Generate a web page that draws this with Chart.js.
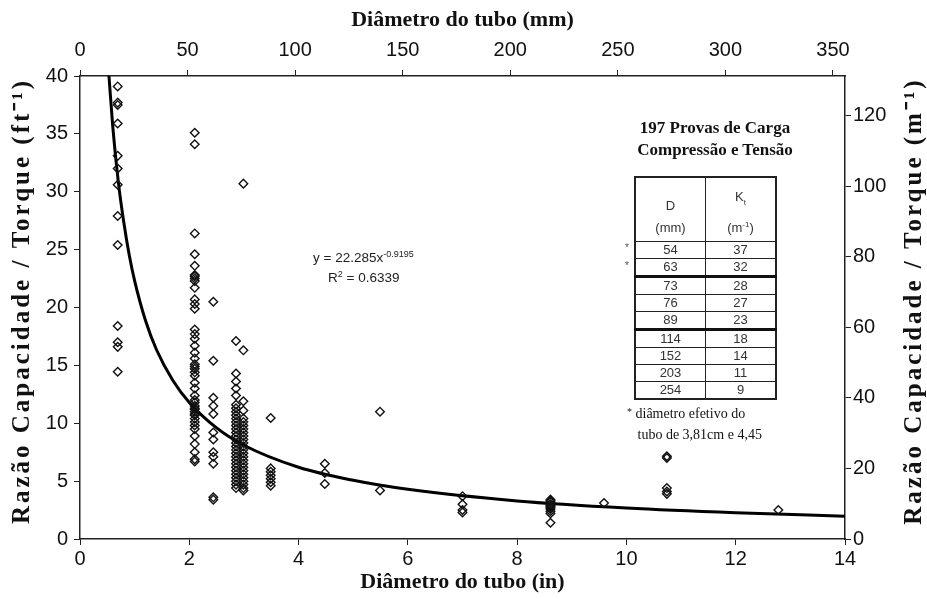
<!DOCTYPE html>
<html>
<head>
<meta charset="utf-8">
<script src="https://cdn.jsdelivr.net/npm/chart.js@4.4.1/dist/chart.umd.min.js"></script>
<style>
  body { margin: 0; background: #fff; }
  #wrap { position: relative; width: 927px; height: 599px; }
  #chart { position: absolute; left: 0; top: 0; }
  .note { position: absolute; color: #111; white-space: nowrap; }
  #eq { left: 313px; top: 246px; font: 13.5px "Liberation Sans", Arial, sans-serif; line-height: 17px; color: #222; }
  #eq sup { font-size: 9px; vertical-align: 5px; }
  #ttl { left: 600px; top: 117px; width: 230px; text-align: center; font: bold 17px "Liberation Serif", serif; line-height: 22px; }
  #kt { position: absolute; left: 634px; top: 176px; border-collapse: collapse; border: 2px solid #222;
        font: 13px "Liberation Sans", Arial, sans-serif; color: #333; }
  #kt td { border: 1.5px solid #222; width: 69px; text-align: center; padding: 0; height: 16px; line-height: 16px; }
  #kt tr.hd td { height: 61px; line-height: 22px; vertical-align: bottom; padding-bottom: 2px; }
  #kt tr.grp td { border-top: 3px solid #111; }
  #kt sub { font-size: 8px; }
  #kt sup { font-size: 8px; }
  .ast { position: absolute; left: 625px; font: 10px "Liberation Sans", sans-serif; color: #555; }
  #foot { left: 627px; top: 401px; font: 14px "Liberation Serif", serif; line-height: 21px; }
</style>
</head>
<body>
<div id="wrap">
  <canvas id="chart" width="927" height="599"></canvas>
  <div class="note" id="eq">y = 22.285x<sup>-0.9195</sup><br>&nbsp;&nbsp;&nbsp;&nbsp;R<sup>2</sup> = 0.6339</div>
  <div class="note" id="ttl">197 Provas de Carga<br>Compressão e Tensão</div>
  <table id="kt"></table>
  <div class="ast" style="top:242px">*</div>
  <div class="ast" style="top:260px">*</div>
  <div class="note" id="foot"><span style="font-size:10px;vertical-align:3px">*</span> diâmetro efetivo do<br>&nbsp;&nbsp;&nbsp;tubo de 3,81cm e 4,45</div>
</div>
<script>
'use strict';

// tube diameter (in) of each column of load tests
let colDiam = [0.69, 2.1, 2.44, 2.855, 2.99, 3.49, 4.48, 5.49, 7.0, 8.61, 9.59, 10.74, 12.78];

// capacity / torque ratio (ft^-1) read for each column
let kt069 = [39.1, 37.7, 37.5, 35.9, 33.1, 32.0, 30.6, 27.9, 25.4, 18.4, 17.0, 16.6, 14.45];
let kt210 = [35.1, 34.1, 26.4, 24.6, 23.6, 22.8, 22.7, 22.5, 22.3, 21.7, 20.7, 20.3, 19.9, 18.1, 17.7,
  17.3, 16.7, 16.1, 15.6, 15.1, 14.9, 14.7, 14.4, 14.1, 13.5, 13.0, 12.4, 12.0, 11.8, 11.5, 11.3,
  11.2, 11.0, 10.8, 10.7, 10.4, 10.1, 9.8, 9.5, 8.9, 8.2, 7.5, 6.9, 6.7];
let kt244 = [20.5, 15.4, 12.2, 11.5, 10.8, 9.2, 8.6, 7.5, 7.1, 6.5, 3.6, 3.4];
let kt285 = [17.1, 14.3, 13.6, 13.0, 12.4, 11.6, 11.3, 11.0, 10.7, 10.4, 10.1, 9.8, 9.5, 9.2, 8.9,
  8.6, 8.3, 8.0, 7.7, 7.4, 7.1, 6.8, 6.5, 6.2, 5.9, 5.6, 5.3, 5.0, 4.7, 4.4];
let kt299 = [30.7, 16.3, 11.9, 11.1, 10.4, 10.1, 9.8, 9.5, 9.2, 8.9, 8.6, 8.3, 8.0, 7.7, 7.4, 7.1,
  6.8, 6.5, 6.2, 5.9, 5.6, 5.3, 5.0, 4.7, 4.4, 4.2];
let kt349 = [10.45, 6.1, 5.8, 5.5, 5.2, 4.9, 4.6];
let kt448 = [6.5, 5.7, 4.75];
let kt549 = [11.0, 4.2];
let kt700 = [3.7, 3.0, 2.5, 2.3];
let kt861 = [3.4, 3.3, 3.2, 3.0, 2.9, 2.8, 2.7, 2.6, 2.4, 2.2, 1.4];
let kt959 = [3.1];
let kt1074 = [7.15, 7.0, 4.4, 4.1, 3.9];
let kt1278 = [2.5];

let colValues = [kt069, kt210, kt244, kt285, kt299, kt349, kt448, kt549, kt700, kt861, kt959, kt1074, kt1278];

// trend curve y = 22.285x^-0.9195
let fitX = [0.53, 0.6, 0.7, 0.8, 0.9, 1.0, 1.2, 1.4, 1.7, 2.0, 2.5, 3.0, 4.0, 5.0, 6.0, 8.0, 10.0, 12.0, 14.0];
let fitY = [40.0, 35.6, 30.9, 27.4, 24.55, 22.3, 18.85, 16.35, 13.7, 11.8, 9.6, 8.1, 6.2, 5.07, 4.29, 3.29, 2.68, 2.27, 1.97];

// inset table
let tableD = [54, 63, 73, 76, 89, 114, 152, 203, 254];
let tableK = [37, 32, 28, 27, 23, 18, 14, 11, 9];

let inToMm = 25.4;
let ftToM = 0.3048;

// build the inset table
let tbl = document.getElementById('kt');
let html = '<tr class="hd"><td>D<br>(mm)</td><td>K<sub>t</sub><br>(m<sup>-1</sup>)</td></tr>';
tableD.forEach((d, i) => {
  let cls = (d === 73 || d === 114) ? ' class="grp"' : '';
  html += '<tr' + cls + '><td>' + d + '</td><td>' + tableK[i] + '</td></tr>';
});
tbl.innerHTML = html;

let points = [];
colDiam.forEach((x, i) => {
  colValues[i].forEach(y => points.push({x: x, y: y}));
});
let curve = fitX.map((x, i) => ({x: x, y: fitY[i]}));

let tickFont = {family: "'Liberation Sans Narrow', 'Arial Narrow', 'Liberation Sans', sans-serif", size: 20};
let titleFont = {family: "'Liberation Serif', 'Times New Roman', serif", size: 22, weight: 'bold', lineHeight: 1.2};

// both side titles read bottom-to-top, so they are drawn here
let sideTitles = {
  id: 'sideTitles',
  afterDraw(chart) {
    let ctx = chart.ctx;
    let drawOne = (x, text) => {
      ctx.save();
      ctx.translate(x, 301);
      ctx.rotate(-Math.PI / 2);
      ctx.font = "bold 25px 'Liberation Serif', serif";
      ctx.letterSpacing = '3px';
      ctx.fillStyle = '#111';
      ctx.textAlign = 'center';
      ctx.textBaseline = 'middle';
      ctx.fillText(text, 0, 0);
      ctx.restore();
    };
    drawOne(23, 'Razão Capacidade / Torque (ft⁻¹)');
    drawOne(915, 'Razão Capacidade / Torque (m⁻¹)');
  }
};

function axisLook(pad) {
  return {
    grid: {display: true, drawOnChartArea: false, drawTicks: true, tickLength: 6, color: '#222', lineWidth: 1},
    border: {display: true, color: '#222', width: 1.5},
    ticks: {color: '#111', font: tickFont, padding: pad}
  };
}

let xB = axisLook(2);
let xT = axisLook(8);
let yL = axisLook(6);
let yR = axisLook(2);

new Chart(document.getElementById('chart'), {
  type: 'scatter',
  data: {
    datasets: [{
      data: points,
      xAxisID: 'x',
      yAxisID: 'y',
      pointStyle: 'rectRot',
      pointRadius: 4.3,
      borderWidth: 1.4,
      borderColor: '#111',
      backgroundColor: 'rgba(255,255,255,0)'
    }, {
      type: 'line',
      data: curve,
      xAxisID: 'x',
      yAxisID: 'y',
      borderColor: '#000',
      borderWidth: 3,
      pointRadius: 0,
      cubicInterpolationMode: 'monotone',
      fill: false
    }]
  },
  options: {
    responsive: false,
    animation: false,
    layout: {padding: 0},
    plugins: {legend: {display: false}, tooltip: {enabled: false}},
    scales: {
      x: Object.assign(xB, {
        type: 'linear', position: 'bottom', min: 0, max: 14,
        ticks: Object.assign(xB.ticks, {stepSize: 2}),
        title: {display: true, text: 'Diâmetro do tubo (in)', color: '#111', font: titleFont, padding: {top: 0, bottom: 3}},
        afterFit: s => { s.height = 60; }
      }),
      x2: Object.assign(xT, {
        type: 'linear', position: 'top', min: 0, max: 14 * inToMm,
        ticks: Object.assign(xT.ticks, {stepSize: 50, includeBounds: false}),
        title: {display: true, text: 'Diâmetro do tubo (mm)', color: '#111', font: titleFont, padding: {top: 7, bottom: 0}},
        afterFit: s => { s.height = 76; }
      }),
      y: Object.assign(yL, {
        type: 'linear', position: 'left', min: 0, max: 40,
        ticks: Object.assign(yL.ticks, {stepSize: 5}),
        afterFit: s => { s.width = 80; }
      }),
      y2: Object.assign(yR, {
        type: 'linear', position: 'right', min: 0, max: 40 / ftToM,
        ticks: Object.assign(yR.ticks, {stepSize: 20, includeBounds: false}),
        afterFit: s => { s.width = 82; }
      })
    }
  },
  plugins: [sideTitles]
});
</script>
</body>
</html>
